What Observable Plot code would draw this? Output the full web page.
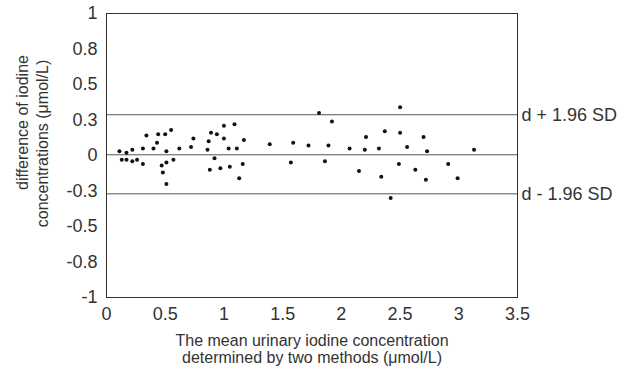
<!DOCTYPE html>
<html><head><meta charset="utf-8">
<script src="https://cdn.jsdelivr.net/npm/d3@7"></script>
<script src="https://cdn.jsdelivr.net/npm/@observablehq/plot@0.6"></script>
<style>html,body{margin:0;padding:0;background:#fff}svg{display:block}</style>
</head><body><div id="chart"></div>
<script>
const meanX = [0.11,0.17,0.22,0.13,0.17,0.22,0.26,0.31,0.31,0.34,0.40,0.43,0.44,0.50,0.55,0.51,0.47,0.51,0.48,0.51,0.57,0.62,0.72,0.74,0.86,0.87,0.89,0.94,1.00,1.00,0.92,0.88,0.97,1.04,1.05,1.09,1.11,1.17,1.16,1.13,
  1.39,1.59,1.72,1.81,1.89,1.92,1.57,1.86,2.07,2.20,2.21,2.32,2.37,2.50,2.50,2.56,2.49,2.15,2.34,2.42,
  2.70,2.73,3.13,2.63,2.72,2.91,2.99];
const diffY = [0.03,0.02,0.04,-0.03,-0.03,-0.04,-0.03,-0.06,0.05,0.14,0.05,0.09,0.15,0.15,0.18,0.03,-0.07,-0.05,-0.12,-0.20,-0.03,0.05,0.06,0.12,0.04,0.10,0.16,0.15,0.21,0.12,-0.02,-0.10,-0.09,0.05,-0.08,0.22,0.05,0.11,-0.06,-0.16,
  0.08,0.09,0.07,0.30,0.07,0.24,-0.05,-0.04,0.05,0.04,0.13,0.05,0.17,0.34,0.16,0.06,-0.06,-0.11,-0.15,-0.30,
  0.13,0.03,0.04,-0.10,-0.17,-0.06,-0.16];
const limitNames = ["d + 1.96 SD", "", "d - 1.96 SD"];
const limitValues = [0.287, 0.005, -0.270];
const yTicks = [-1, -0.75, -0.5, -0.25, 0, 0.25, 0.5, 0.75, 1];
const yTickLabels = ["-1", "-0.8", "-0.5", "-0.3", "0", "0.3", "0.5", "0.8", "1"];
const xTicks = [0, 0.5, 1, 1.5, 2, 2.5, 3, 3.5];
const xTickLabels = ["0", "0.5", "1", "1.5", "2", "2.5", "3", "3.5"];
const xTitleLines = ["The mean urinary iodine concentration", "determined by two methods (\u03bcmol/L)"];
const yTitleLines = ["difference of iodine", "concentrations (\u03bcmol/L)"];

const points = meanX.map((x, i) => ({x, y: diffY[i]}));
const limits = limitValues.map((v, i) => ({v, name: limitNames[i]}));

const chart = Plot.plot({
  width: 629, height: 369,
  marginLeft: 106, marginRight: 112, marginTop: 13, marginBottom: 72,
  style: {fontFamily: "'Liberation Sans', Arial, sans-serif", fontSize: "18px", color: "#333", background: "#fff", overflow: "visible"},
  x: {domain: [0, 3.5], ticks: xTicks, tickFormat: d => xTickLabels[xTicks.indexOf(d)], tickSize: 0, tickPadding: 10, label: null},
  y: {domain: [-1, 1], ticks: yTicks, tickFormat: d => yTickLabels[yTicks.indexOf(d)], tickSize: 0, tickPadding: 9, label: null},
  marks: [
    Plot.ruleY(limits, {y: "v", stroke: "#555", strokeWidth: 1}),
    Plot.frame({stroke: "#333", strokeWidth: 1}),
    Plot.dot(points, {x: "x", y: "y", r: 2, fill: "#111", stroke: "none"}),
    Plot.text(limits.filter(d => d.name), {x: () => 3.5, y: "v", text: "name", textAnchor: "start", dx: 4, fontSize: 18, fill: "#333"}),
    Plot.text([xTitleLines[0]], {frameAnchor: "bottom", dy: 43, lineAnchor: "middle", text: d => d, fontSize: 16, fill: "#333"}),
    Plot.text([xTitleLines[1]], {frameAnchor: "bottom", dy: 60, lineAnchor: "middle", text: d => d, fontSize: 16, fill: "#333"}),
    Plot.text([yTitleLines[0]], {frameAnchor: "top-left", dx: -84, dy: 109, rotate: -90, textAnchor: "middle", lineAnchor: "middle", text: d => d, fontSize: 16, fill: "#333"}),
    Plot.text([yTitleLines[1]], {frameAnchor: "top-left", dx: -64, dy: 130, rotate: -90, textAnchor: "middle", lineAnchor: "middle", text: d => d, fontSize: 16, fill: "#333"})
  ]
});
document.getElementById("chart").appendChild(chart);
</script>
</body></html>
